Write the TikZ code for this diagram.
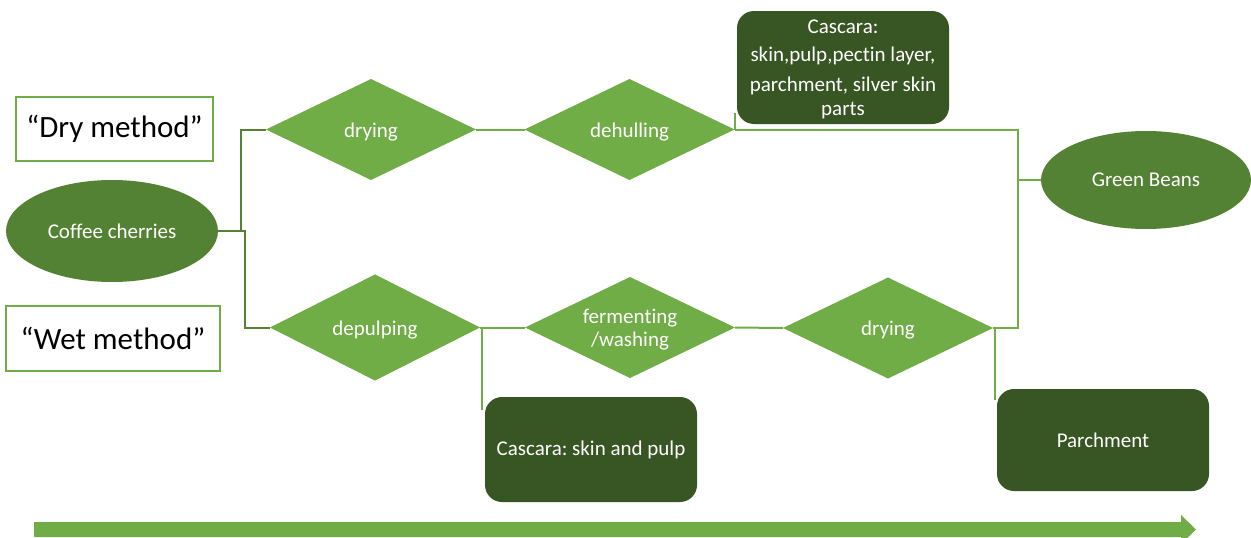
\documentclass[tikz,border=0pt]{standalone}
\usepackage{fontspec}
\setmainfont{Carlito}[Ligatures={NoCommon}]
\usetikzlibrary{shapes.geometric}
\definecolor{lgreen}{HTML}{70AD47}
\definecolor{mgreen}{HTML}{548235}
\definecolor{dgreen}{HTML}{375623}
\tikzset{
  stepdia/.style={diamond, fill=lgreen, text=white, minimum width=210pt, minimum height=101pt, inner sep=0pt, outer sep=0pt, align=center, text height=18pt, text depth=3pt, font=\fontsize{21}{23}\selectfont},
  ell/.style={ellipse, fill=mgreen, text=white, minimum width=212pt, minimum height=102pt, inner sep=0pt, outer sep=0pt, font=\fontsize{21}{23}\selectfont},
  darkbox/.style={rectangle, rounded corners=17pt, fill=dgreen, text=white, inner sep=0pt, outer sep=0pt, align=center, font=\fontsize{21}{28}\selectfont},
  methodbox/.style={rectangle, draw=lgreen, line width=2pt, fill=white, inner sep=0pt, outer sep=0pt, font=\fontsize{31}{34}\selectfont},
  whitetext/.style={text=white, inner sep=0pt, align=center, font=\fontsize{21}{25}\selectfont},
  conn/.style={draw=lgreen, line width=2pt},
  connd/.style={draw=mgreen, line width=2pt},
}
\begin{document}
\frenchspacing
\begin{tikzpicture}[x=1pt,y=-1pt]
\useasboundingbox (0,0) rectangle (1251,538);
% method labels
\node[methodbox, minimum width=197pt, minimum height=64pt] (dry) at (114.5,129) {“Dry method”};
\node[methodbox, minimum width=214pt, minimum height=65pt] (wet) at (113,338.5) {“Wet method”};
% nodes
\node[ell] (cc) at (112,231) {Coffee cherries};
\node[stepdia] (d1) at (371,129.5) {drying};
\node[stepdia] (dh) at (629.5,129.5) {dehulling};
\node[stepdia] (dp) at (375,327.5) {depulping};
\node[stepdia] (fw) at (630,327.5) {};
\node[whitetext] (fwt) at (630,330) {fermenting\\[-2pt]/washing};
\node[stepdia] (d2) at (888,328) {drying};
\node[ell, minimum width=210pt, minimum height=98pt] (gb) at (1146,180) {Green Beans};
\node[darkbox, minimum width=212pt, minimum height=113pt] (cas1) at (843,67.5) {};
\node[whitetext, font=\fontsize{21}{28}\selectfont] (cas1t) at (843,69.5) {Cascara:\\skin,pulp,pectin layer,\\[2pt]parchment, silver skin\\[-4pt]parts};
\node[darkbox, minimum width=212pt, minimum height=105pt] (cas2) at (591,449.5) {Cascara: skin and pulp};
\node[darkbox, minimum width=212pt, minimum height=102pt] (par) at (1103,440) {Parchment};
% connectors
\draw[connd] (cc.east) -- ++(23,0) |- (d1.west);
\draw[connd] (cc.east) -- ++(27,0) |- (dp.west);
\draw[conn] (d1.east) -- (dh.west);
\draw[conn] (dh.east) -| ([xshift=-23pt]gb.west) -- (gb.west);
\draw[conn] (d2.east) -| ([xshift=-23pt]gb.west);
\draw[conn] (dh.east) -- ([yshift=11pt]dh.east |- cas1.south);
\draw[conn] (dp.east) -- (fw.west);
\draw[conn] ([xshift=2pt]dp.east) -- ([xshift=2pt,yshift=-13pt]dp.east |- cas2.north);
\draw[conn] (fw.east) -- (d2.west);
\draw[conn] ([xshift=2pt]d2.east) -- ([xshift=2pt,yshift=-11pt]d2.east |- par.north);
% time arrow
\fill[lgreen] (34,522) -- (1181,522) -- (1181,515) -- (1196,529.5) -- (1181,544) -- (1181,537) -- (34,537) -- cycle;
\end{tikzpicture}
\end{document}
